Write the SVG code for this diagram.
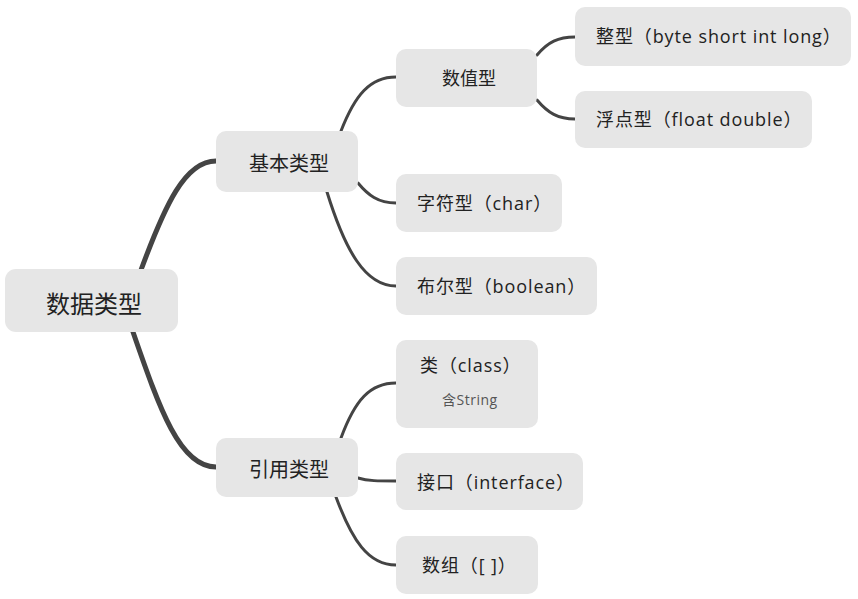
<svg xmlns="http://www.w3.org/2000/svg" width="858" height="599" viewBox="0 0 858 599">
<style>
.n{fill:#e6e6e6}
.t{font-family:"Open Sans","Noto Sans CJK SC",sans-serif;fill:#222;dominant-baseline:central}
.l2{font-size:18px;letter-spacing:0.9px}
.c1{fill:none;stroke:#444;stroke-width:5;stroke-linecap:round}
.c2{fill:none;stroke:#444;stroke-width:3;stroke-linecap:round}
</style>
<rect width="858" height="599" fill="#fff"/>
<g id="connectors">
<path class="c1" d="M141,270 C165,205 185,161 216,161"/>
<path class="c1" d="M133,332 C160,410 180,467 216,467"/>
<path class="c2" d="M341,131 C355,95 370,77 396,77"/>
<path class="c2" d="M358,183 C368,195 378,203 396,203"/>
<path class="c2" d="M327,192 C345,250 365,286 396,286"/>
<path class="c2" d="M537,55 C548,42 558,37 575,37"/>
<path class="c2" d="M537,100 C548,113 558,119 575,119"/>
<path class="c2" d="M341,438 C355,400 370,383 396,383"/>
<path class="c2" d="M358,478 C368,481 378,481 396,481"/>
<path class="c2" d="M336,497 C352,540 368,565 396,565"/>
</g>
<g id="root"><rect class="n" x="5" y="269" width="173" height="63" rx="11"/><text class="t" x="94" y="303" font-size="24" text-anchor="middle">数据类型</text></g>
<g id="basic"><rect class="n" x="216" y="131" width="142" height="61" rx="10"/><text class="t" x="289" y="163" font-size="20" text-anchor="middle">基本类型</text></g>
<g id="ref"><rect class="n" x="216" y="438" width="142" height="59" rx="10"/><text class="t" x="289" y="469" font-size="20" text-anchor="middle">引用类型</text></g>
<g id="numeric"><rect class="n" x="396" y="49" width="141" height="58" rx="10"/><text class="t" x="469" y="78" font-size="18" text-anchor="middle">数值型</text></g>
<g id="int"><rect class="n" x="575" y="7" width="276" height="59" rx="10"/><text class="t l2" x="596" y="36">整型（byte short int long）</text></g>
<g id="float"><rect class="n" x="575" y="91" width="237" height="57" rx="10"/><text class="t l2" x="596" y="119">浮点型（float double）</text></g>
<g id="char"><rect class="n" x="396" y="174" width="166" height="58" rx="10"/><text class="t l2" x="417" y="203">字符型（char）</text></g>
<g id="boolean"><rect class="n" x="396" y="257" width="201" height="58" rx="10"/><text class="t l2" x="417" y="286">布尔型（boolean）</text></g>
<g id="class"><rect class="n" x="396" y="340" width="142" height="88" rx="10"/><text class="t l2" x="420" y="365">类（class）</text><text class="t" x="442" y="399" font-size="14" letter-spacing="0.5" style="fill:#555">含String</text></g>
<g id="interface"><rect class="n" x="396" y="453" width="187" height="57" rx="10"/><text class="t l2" x="417" y="482">接口（interface）</text></g>
<g id="array"><rect class="n" x="396" y="536" width="142" height="58" rx="10"/><text class="t l2" x="422" y="565">数组（[ ]）</text></g>
</svg>
